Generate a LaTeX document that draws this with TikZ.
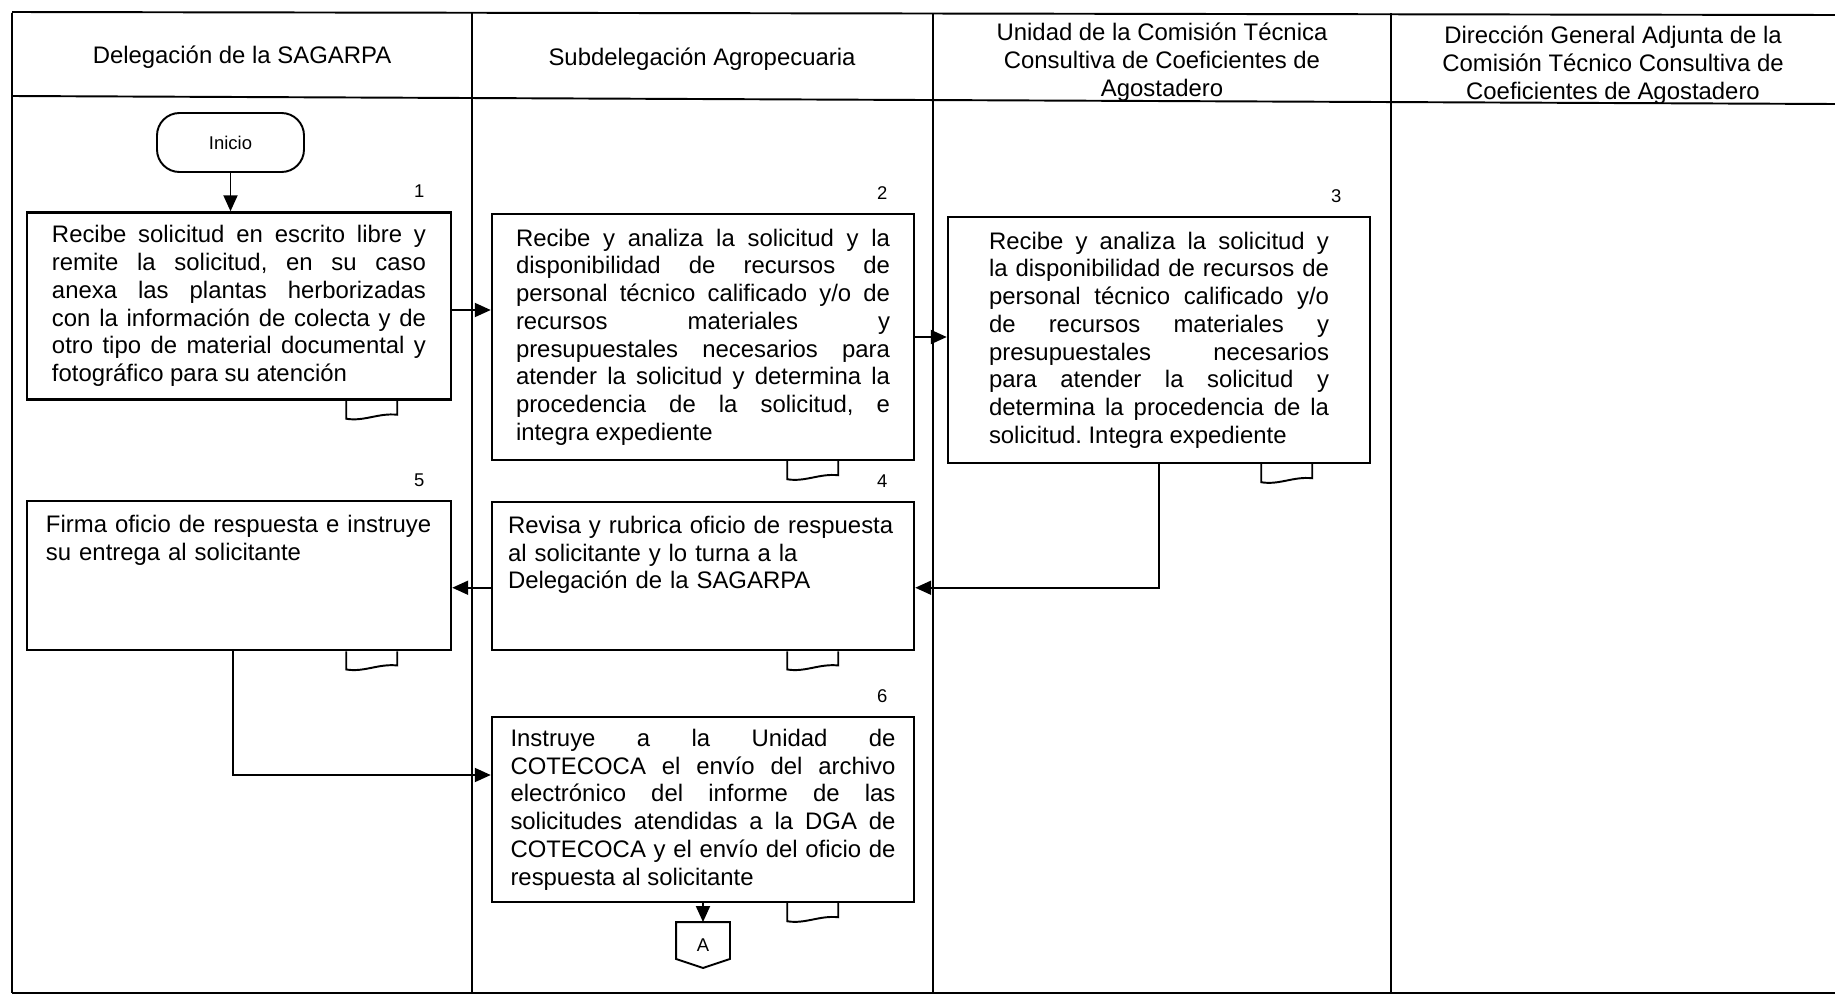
\documentclass[tikz,border=0pt]{standalone}
\usepackage{fontspec}
\setmainfont{Liberation Sans}
\usepackage{tikz}
\usetikzlibrary{arrows.meta,positioning}
\tolerance=10000
\hbadness=10000
\hyphenpenalty=10000
\frenchspacing

\begin{document}
\begin{tikzpicture}[x=0.2mm,y=-0.2mm,line width=1.1pt,
		every node/.style={font=\fontsize{13.6}{15.8}\selectfont},
		actbox/.style={draw,line width=1.4pt,inner sep=0pt,align=justify},
		toptext/.style={draw,line width=1.4pt,inner sep=0pt,align=left,anchor=north,text height=6.2mm,text depth=#1},
		num/.style={inner sep=0pt,font=\fontsize{10.5}{12}\selectfont},
		flecha/.style={-{Triangle[length=3.2mm,width=2.8mm]}},
		docmark/.pic={\draw (0,0) -- (0,18) .. controls (18,21) and (32,12) .. (51,14) -- (51,0);}
		]
		\useasboundingbox (0,0) rectangle (1835,994);
		% marco y carriles
		\draw (12,12) -- (1835,15);
		\draw (12,96) -- (1835,104);
		\draw (12,993) -- (1835,993);
		\foreach \x in {12,472,933,1391}
			\draw (\x,13) -- (\x,993);
		\node (h1) at (242,57) {Delegación de la SAGARPA};
		\node (h2) at (702,59) {Subdelegación Agropecuaria};
		\node[align=center] (h3) at (1162,62) {Unidad de la Comisión Técnica\\Consultiva de Coeficientes de\\Agostadero};
		\node[align=center] (h4) at (1613,65) {Dirección General Adjunta de la\\Comisión Técnico Consultiva de\\Coeficientes de Agostadero};
		% actividades
		\node[draw,rounded corners=4.5mm,minimum width=29.4mm,minimum height=11.8mm,font=\fontsize{10.5}{12}\selectfont] (ini) at (230.5,142.5) {Inicio};
		\node[actbox,text width=74.8mm,minimum width=84.8mm,minimum height=37.4mm] (b1) at (239,306)
			{Recibe solicitud en escrito libre y\linebreak remite la solicitud, en su caso\linebreak anexa las plantas herborizadas\linebreak con la información de colecta y de\linebreak otro tipo de material documental y\linebreak fotográfico para su atención};
		\node[actbox,text width=74.8mm,minimum width=84.4mm,minimum height=49.2mm] (b2) at (703,337)
			{Recibe y analiza la solicitud y la\linebreak disponibilidad de recursos de\linebreak personal técnico calificado y/o de\linebreak recursos materiales y\linebreak presupuestales necesarios para\linebreak atender la solicitud y determina la\linebreak procedencia de la solicitud, e\linebreak integra expediente};
		\node[actbox,text width=68mm,minimum width=84.4mm,minimum height=49.2mm] (b3) at (1159,340)
			{Recibe y analiza la solicitud y\linebreak la disponibilidad de recursos de\linebreak personal técnico calificado y/o\linebreak de recursos materiales y\linebreak presupuestales necesarios\linebreak para atender la solicitud y\linebreak determina la procedencia de la\linebreak solicitud. Integra expediente};
		\node[toptext=23.4mm,text width=78mm,minimum width=84.4mm] (b4) at (703,501)
			{Revisa y rubrica oficio de respuesta\\al solicitante y lo turna a la\\Delegación de la SAGARPA};
		\node[toptext=23.6mm,text width=77.2mm,minimum width=84.8mm] (b5) at (239,500)
			{Firma oficio de respuesta e instruye\\su entrega al solicitante};
		\node[actbox,text width=77mm,minimum width=84.4mm,minimum height=37mm] (b6) at (703,809.5)
			{Instruye a la Unidad de\linebreak COTECOCA el envío del archivo\linebreak electrónico del informe de las\linebreak solicitudes atendidas a la DGA de\linebreak COTECOCA y el envío del oficio de\linebreak respuesta al solicitante};
		\node[inner sep=0pt,minimum width=10.4mm,minimum height=8.8mm,font=\fontsize{10.5}{12}\selectfont] (conA) at (703,945) {A};
		\draw (conA.north west) -- (conA.north east) -- ([yshift=1.8mm]conA.south east) -- (conA.south) -- ([yshift=1.8mm]conA.south west) -- cycle;
		% numeros
		\node[num,above left=2.5mm and 5.4mm of b1.north east] (n1) {1};
		\node[num,above left=2.5mm and 5.4mm of b2.north east] (n2) {2};
		\node[num,above left=2.5mm and 5.8mm of b3.north east] (n3) {3};
		\node[num,above left=2.5mm and 5.4mm of b4.north east] (n4) {4};
		\node[num,above left=2.5mm and 5.4mm of b5.north east] (n5) {5};
		\node[num,above left=2.5mm and 5.4mm of b6.north east] (n6) {6};
		% documentos
		\pic at ([xshift=-21.2mm]b1.south east) {docmark};
		\pic at ([xshift=-25.6mm]b2.south east) {docmark};
		\pic at ([xshift=-22mm]b3.south east) {docmark};
		\pic at ([xshift=-25.6mm]b4.south east) {docmark};
		\pic at ([xshift=-21.2mm]b5.south east) {docmark};
		\pic at ([xshift=-25.6mm]b6.south east) {docmark};
		% conectores
		\draw[flecha] (ini.south) -- (ini.south |- b1.north);
		\draw[flecha] ([yshift=-0.8mm]b1.east) -- ([yshift=-0.8mm]b1.east -| b2.west);
		\draw[flecha] (b2.east) -- (b2.east -| b3.west);
		\draw[flecha] (b3.south) |- ([yshift=-2.3mm]b4.east);
		\draw[flecha] ([yshift=-2.3mm]b4.west) -- ([yshift=-2.3mm]b4.west -| b5.east);
		\draw[flecha] ([xshift=-1.2mm]b5.south) |- ([yshift=6.9mm]b6.west);
		\draw[flecha] (b6.south) -- (conA.north);
\end{tikzpicture}
\end{document}
